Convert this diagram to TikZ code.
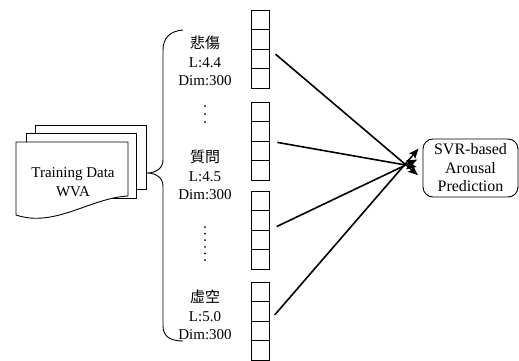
\documentclass[tikz,border=0pt]{standalone}
\usepackage{fontspec}
\setmainfont{Liberation Serif}
\newfontfamily\cjk{Noto Sans CJK TC}
\usetikzlibrary{arrows.meta,calc}

\tikzset{
  vecbox/.style={draw,line width=0.9pt,minimum width=18pt,minimum height=78pt,inner sep=0pt},
  wordlab/.style={align=center,font=\fontsize{15}{18.5}\selectfont,inner sep=0pt},
  dotmark/.style={circle,fill=black,inner sep=0pt,minimum size=2pt},
  feed/.style={line width=1.6pt,-{Stealth[length=10pt,width=8pt,inset=2pt]},shorten <=8pt,shorten >=6pt},
}

\begin{document}
\begin{tikzpicture}[x=1pt,y=-1pt]
	\useasboundingbox (0,0) rectangle (519,360);
	% the stack of documents
	\draw[fill=white,line width=0.9pt] (35,125) rectangle (146,189);
	\draw[fill=white,line width=0.9pt] (26,133) rectangle (136,198);
	\draw[fill=white,line width=0.9pt] (16,142) -- (128,142) -- (128,196)
		.. controls (90,198) and (55,228) .. (16,215) -- cycle;
	\node[wordlab] (data) at (73,182) {Training Data\\WVA};
	% the brace
	\draw[line width=0.9pt] (183,30) .. controls (170,31) and (163,38) .. (163,50) -- (163,160)
		.. controls (163,168) and (156,173) .. (147,173)
		.. controls (156,173) and (163,178) .. (163,186) -- (163,326)
		.. controls (163,336) and (170,341) .. (183,341);
	% the words
	\node[wordlab] (w1) at (205,61) {{\cjk 悲傷}\\L:4.4\\Dim:300};
	\node[wordlab] (w2) at (205,175) {{\cjk 質問}\\L:4.5\\Dim:300};
	\node[wordlab] (w3) at (205,315) {{\cjk 虛空}\\L:5.0\\Dim:300};
	% the dots between them
	\foreach \y in {106,114,122}
		\node[dotmark] at (205,\y) {};
	\foreach \y in {227,233.6,240.2,246.8,253.4,260}
		\node[dotmark] at (205,\y) {};
	% the vectors
	\node[vecbox] (v1) at (260,49) {};
	\node[vecbox] (v2) at (260,141) {};
	\node[vecbox] (v3) at (260,230) {};
	\node[vecbox] (v4) at (260,321) {};
	\foreach \v in {v1,v2,v3,v4}
		\foreach \k in {1,2,3}
			\draw[line width=0.9pt] ($(\v.north west)!\k/4!(\v.south west)$) -- ($(\v.north east)!\k/4!(\v.south east)$);
	% the regressor
	\node[draw,line width=0.9pt,rounded corners=10pt,minimum width=95pt,minimum height=58pt,
		align=center,font=\fontsize{16}{18.5}\selectfont] (svr) at (470.5,168) {SVR-based\\Arousal\\Prediction};
	\draw[feed] (v1.east) -- ([yshift=-11pt]svr.west);
	\draw[feed] (v2.east) -- (svr.west);
	\draw[feed] (v3.east) -- ([yshift=11pt]svr.west);
	\draw[feed] (v4.east) -- ([yshift=24pt]svr.west);
\end{tikzpicture}
\end{document}
